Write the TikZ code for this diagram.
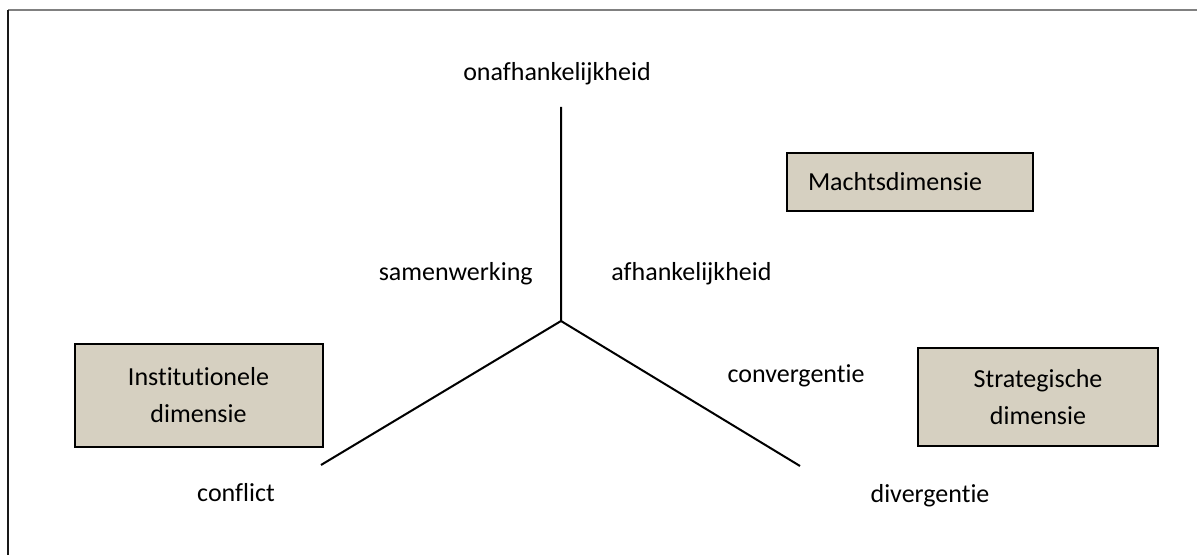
\documentclass[tikz,border=0pt]{standalone}
\usepackage{fontspec}
\setmainfont{Carlito}[Ligatures=NoCommon]
\definecolor{boxtan}{RGB}{214,208,193}
\definecolor{framegray}{RGB}{128,128,128}

\begin{document}
\begin{tikzpicture}[x=0.5pt,y=-0.5pt,
	dimbox/.style={draw=black, line width=1pt, fill=boxtan, inner xsep=0pt, inner ysep=0pt,%
		align=center, font=\fontsize{13}{18.5}\selectfont},
	lbl/.style={inner sep=0pt, font=\fontsize{13}{18.5}\selectfont},
	axisline/.style={line width=1pt}]
	\useasboundingbox (0,0) rectangle (1197,555);
	% frame
	\draw[framegray, line width=0.75pt] (8,10) -- (1197,10);
	\draw[black!90, line width=1pt] (8,10) -- (8,555);
	% the three axes
	\coordinate (hub) at (561,321);
	\coordinate (top) at (561,107);
	\coordinate (left) at (321,465);
	\coordinate (right) at (800,466);
	\draw[axisline] (top) -- (hub) -- (left);
	\draw[axisline] (hub) -- (right);
	% axis labels
	\node[lbl, anchor=base] (onafh) at (557,81) {onafhankelijkheid};
	\node[lbl, anchor=base east] (samen) at (533,281) {samenwerking};
	\node[lbl, anchor=base west] (afh) at (611,281) {afhankelijkheid};
	\node[lbl, anchor=base] (conv) at (796,382) {convergentie};
	\node[lbl, anchor=base] (conflict) at (236,501) {conflict};
	\node[lbl, anchor=base] (div) at (930,502) {divergentie};
	% dimensions
	\node[dimbox, align=left, text width=102pt, inner xsep=10.5pt, minimum height=29pt] (macht) at (910,182) {Machtsdimensie};
	\node[dimbox, minimum width=124pt, minimum height=51.5pt] (inst) at (198.5,395) {Institutionele\\dimensie};
	\node[dimbox, minimum width=120pt, minimum height=49pt] (strat) at (1038,397) {Strategische\\dimensie};
\end{tikzpicture}
\end{document}
